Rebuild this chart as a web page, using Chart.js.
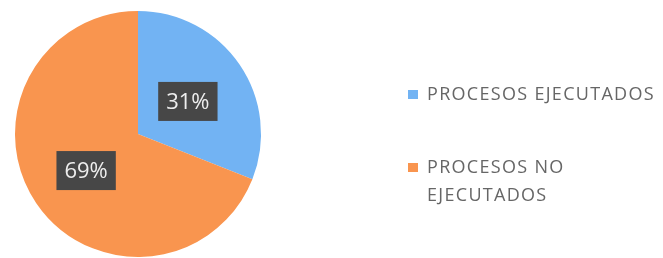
<!DOCTYPE html>
<html>
<head>
<meta charset="utf-8">
<script src="https://cdn.jsdelivr.net/npm/chart.js@4"></script>
<style>
  html, body { margin: 0; padding: 0; background: #fff; }
  #wrap { width: 663px; height: 258px; position: relative; }
</style>
</head>
<body>
<div id="wrap"><canvas id="chartProcesos" width="663" height="258"></canvas></div>
<script>
// datos
const categorias = ['PROCESOS EJECUTADOS', 'PROCESOS NO EJECUTADOS'];
const leyendaLineas = [['PROCESOS EJECUTADOS'], ['PROCESOS NO', 'EJECUTADOS']];
const porcentajes = [31, 69];
const colores = ['#72b3f3', '#f9954f'];

const fuente = '"Open Sans", "Liberation Sans", sans-serif';

// etiquetas oscuras con el porcentaje en cada sector
const etiquetasPlugin = {
    id: 'etiquetas',
    afterDatasetsDraw(chart) {
        const ctx = chart.ctx;
        const meta = chart.getDatasetMeta(0);
        ctx.save();
        ctx.font = '22px ' + fuente;
        ctx.textAlign = 'center';
        ctx.textBaseline = 'middle';
        meta.data.forEach((arc, i) => {
            const pos = arc.tooltipPosition();
            const txt = porcentajes[i] + '%';
            const w = ctx.measureText(txt).width + 16;
            const h = 39;
            const cy = pos.y + 2;
            ctx.fillStyle = '#474747';
            ctx.fillRect(pos.x - w / 2 - 1, cy - h / 2, w, h);
            ctx.fillStyle = '#eeeeee';
            ctx.fillText(txt, pos.x - 1, cy + 1);
        });
        ctx.restore();
    }
};

// leyenda a la derecha, con texto en dos lineas
const leyendaPlugin = {
    id: 'leyendaDerecha',
    afterDraw(chart) {
        const ctx = chart.ctx;
        ctx.save();
        ctx.font = '18px ' + fuente;
        ctx.letterSpacing = '1.3px';
        ctx.textBaseline = 'middle';
        const x0 = 408;
        const filas = [95, 168];
        leyendaLineas.forEach((lineas, i) => {
            const y = filas[i];
            ctx.fillStyle = colores[i];
            ctx.fillRect(x0, y - 5, 10, 9);
            ctx.fillStyle = '#666666';
            lineas.forEach((t, j) => {
                ctx.fillText(t, x0 + 19, y + j * 28);
            });
        });
        ctx.restore();
    }
};

const canvas = document.getElementById('chartProcesos');
new Chart(canvas.getContext('2d'), {
    type: 'pie',
    data: {
        labels: categorias,
        datasets: [{
            data: porcentajes,
            backgroundColor: colores,
            borderWidth: 0
        }]
    },
    options: {
        responsive: false,
        animation: false,
        layout: { padding: { left: 15, right: 402, top: 11, bottom: 1 } },
        plugins: {
            legend: { display: false },
            tooltip: { enabled: false }
        }
    },
    plugins: [etiquetasPlugin, leyendaPlugin]
});
</script>
</body>
</html>
